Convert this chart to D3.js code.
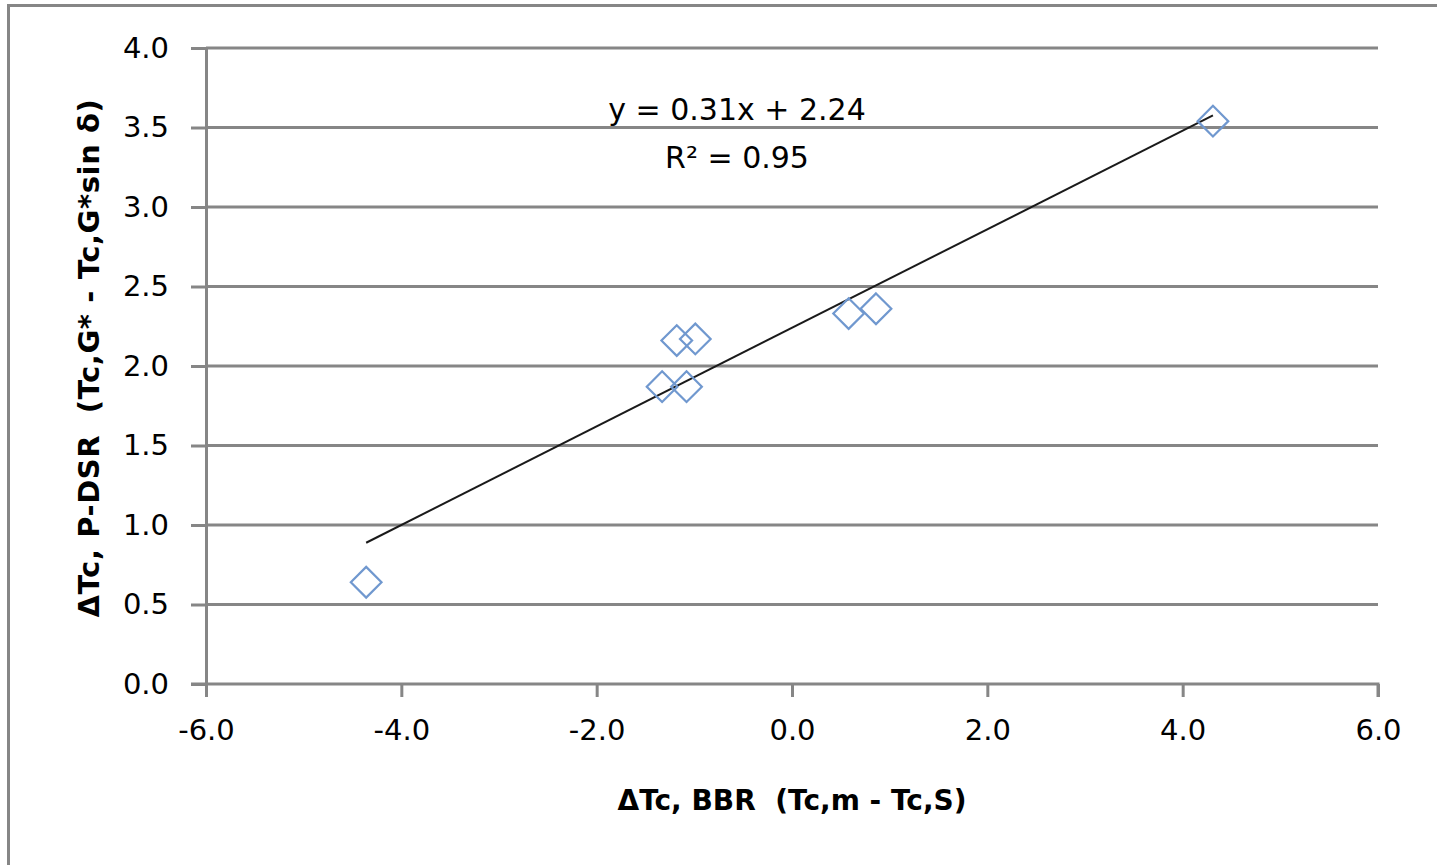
<!DOCTYPE html>
<html>
<head>
<meta charset="utf-8">
<script src="https://cdn.jsdelivr.net/npm/d3@7"></script>
<style>
  body { margin: 0; background: #fff; }
  text { font-family: "DejaVu Sans", sans-serif; fill: #000; }
</style>
</head>
<body>
<svg id="chart"></svg>
<script>
// datos
const xValues = [-4.36, -1.18, -0.99, -1.33, -1.08, 0.58, 0.86, 4.31];
const yValues = [0.64, 2.16, 2.17, 1.87, 1.87, 2.33, 2.36, 3.54];
const xTicks = [-6, -4, -2, 0, 2, 4, 6];
const yTicks = [0, 0.5, 1, 1.5, 2, 2.5, 3, 3.5, 4];
const trendSlope = 0.31;
const trendIntercept = 2.24;
const equationText = "y = 0.31x + 2.24";
const r2Text = "R² = 0.95";
const xTitle = "ΔTc, BBR\u00a0\u00a0(Tc,m - Tc,S)";
const yTitle = "ΔTc, P-DSR\u00a0\u00a0(Tc,G* - Tc,G*sin δ)";

const width = 1437;
const height = 865;
const grid = "#868686";

const svg = d3.select("#chart")
    .attr("width", width)
    .attr("height", height);

// marco exterior (el derecho y el inferior quedan fuera)
svg.append("rect")
    .attr("x", 8.5).attr("y", 5.5)
    .attr("width", width + 20).attr("height", height + 20)
    .attr("fill", "none")
    .attr("stroke", grid)
    .attr("stroke-width", 3);

const x = d3.scaleLinear().domain([-6, 6]).range([206, 1378]);
const y = d3.scaleLinear().domain([0, 4]).range([684, 48]);

// formato con guion normal, como Excel
const fmt = d => d3.format(".1f")(d).replace("\u2212", "-");

// lineas de rejilla
svg.append("g")
    .selectAll("line")
    .data(yTicks.filter(d => d > 0))
    .join("line")
    .attr("x1", x(-6)).attr("x2", x(6))
    .attr("y1", d => y(d)).attr("y2", d => y(d))
    .attr("stroke", grid)
    .attr("stroke-width", 3);

// ejes
const xAxis = svg.append("g")
    .attr("transform", `translate(0,${y(0)})`)
    .call(d3.axisBottom(x).tickValues(xTicks).tickSize(13).tickPadding(22)
        .tickFormat(fmt));

const yAxis = svg.append("g")
    .attr("transform", `translate(${x(-6)},0)`)
    .call(d3.axisLeft(y).tickValues(yTicks).tickSize(15).tickPadding(22)
        .tickFormat(fmt));

[xAxis, yAxis].forEach(a => {
    a.select(".domain").attr("stroke", grid).attr("stroke-width", 3);
    a.selectAll(".tick line").attr("stroke", grid).attr("stroke-width", 3);
    a.selectAll(".tick text")
        .style("font-family", "DejaVu Sans")
        .style("font-size", "29px")
        .attr("fill", "#000");
});
xAxis.selectAll(".tick text").attr("dy", "0.71em");
// el eje x empieza a la izquierda del eje y
xAxis.select(".domain").attr("d", `M${x(-6) - 15},0H${x(6)}V13`);

// linea de tendencia
const xExt = d3.extent(xValues);
svg.append("line")
    .attr("x1", x(xExt[0])).attr("y1", y(trendSlope * xExt[0] + trendIntercept))
    .attr("x2", x(xExt[1])).attr("y2", y(trendSlope * xExt[1] + trendIntercept))
    .attr("stroke", "#1a1a1a")
    .attr("stroke-width", 2);

// puntos en forma de rombo
const diamond = d3.symbol().type(d3.symbolDiamond2).size(600);
svg.append("g")
    .selectAll("path")
    .data(xValues.map((v, i) => [v, yValues[i]]))
    .join("path")
    .attr("d", diamond)
    .attr("transform", d => `translate(${x(d[0])},${y(d[1])})`)
    .attr("fill", "none")
    .attr("stroke", "#7098cf")
    .attr("stroke-width", 2.2);

// ecuacion
svg.append("text")
    .attr("x", 737).attr("y", 120)
    .attr("text-anchor", "middle")
    .style("font-size", "30px")
    .text(equationText);
svg.append("text")
    .attr("x", 737).attr("y", 168)
    .attr("text-anchor", "middle")
    .style("font-size", "30px")
    .text(r2Text);

// titulos de los ejes
svg.append("text")
    .attr("x", 792).attr("y", 810)
    .attr("text-anchor", "middle")
    .style("font-size", "28px")
    .style("font-weight", "bold")
    .text(xTitle);

svg.append("text")
    .attr("transform", "translate(99,358) rotate(-90)")
    .attr("text-anchor", "middle")
    .style("font-size", "29px")
    .style("font-weight", "bold")
    .style("letter-spacing", "0.6px")
    .text(yTitle);
</script>
</body>
</html>
